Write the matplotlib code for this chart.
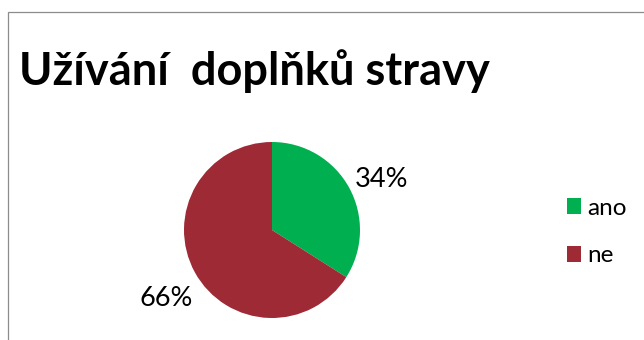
import matplotlib
matplotlib.use('Agg')
import matplotlib.pyplot as plt
from matplotlib.patches import Rectangle

plt.rcParams['font.family'] = ['Lato', 'DejaVu Sans']

# data
categories = ['ano', 'ne']
shares = [34, 66]
colors = ['#00B050', '#9E2A36']
title = 'Užívání  doplňků stravy'

fig = plt.figure(figsize=(6.44, 3.40), dpi=100)

# chart frame (runs off the right and bottom edge)
fig.patches.append(Rectangle((8 / 644, -0.1), 1.0, (340 - 12) / 340 + 0.1,
                             transform=fig.transFigure, fill=False,
                             edgecolor='#8c8c8c', linewidth=0.9))

fig.text(19 / 644, 1 - 71 / 340, title, fontsize=32.5, fontweight='bold',
         va='center', ha='left')

ax = fig.add_axes([184 / 644, 22 / 340, 176 / 644, 176 / 340])
wedges, texts, autotexts = ax.pie(shares, colors=colors, startangle=90,
                                  counterclock=False,
                                  autopct='%1.0f%%', pctdistance=1.4,
                                  textprops={'fontsize': 19.5})
# nudge the percentage labels a bit lower
for t in autotexts:
    x, y = t.get_position()
    t.set_position((x + 0.02, y - 0.1))
ax.set_xlim(-1, 1)
ax.set_ylim(-1, 1)
ax.set_aspect('equal')

fig.legend(wedges, categories, loc='upper left',
           bbox_to_anchor=(557 / 644, 1 - 188 / 340),
           frameon=False, fontsize=17.5, handlelength=0.6, handleheight=0.6,
           handletextpad=0.25, labelspacing=1.1, borderaxespad=0)

fig.savefig('out.png', dpi=100)
